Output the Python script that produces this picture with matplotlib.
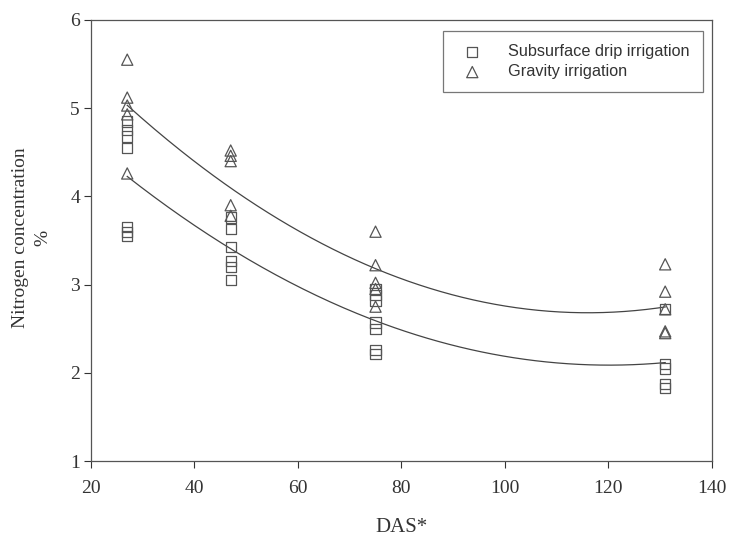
import numpy as np
import matplotlib.pyplot as plt

# days after sowing
das_sdi = [27] * 7 + [47] * 6 + [75] * 7 + [131] * 5
n_sdi = [4.85, 4.75, 4.68, 4.55, 3.65, 3.6, 3.55,
         3.76, 3.63, 3.43, 3.27, 3.2, 3.05,
         2.95, 2.88, 2.82, 2.57, 2.5, 2.26, 2.21,
         2.72, 2.1, 2.05, 1.87, 1.83]

das_grav = [27] * 5 + [47] * 5 + [75] * 5 + [131] * 5
n_grav = [5.55, 5.12, 5.03, 4.93, 4.26,
          4.52, 4.46, 4.40, 3.9, 3.78,
          3.6, 3.22, 3.02, 2.95, 2.75,
          3.23, 2.92, 2.72, 2.47, 2.45]

plt.rcParams['font.family'] = ['Liberation Serif', 'DejaVu Serif']

fig = plt.figure(figsize=(7.3, 5.37), dpi=100)
ax = fig.add_axes([0.1247, 0.1415, 0.8503, 0.8213])

ax.scatter(das_sdi, n_sdi, marker='s', s=55, facecolors='none',
           edgecolors='#555555', linewidths=0.9, label='Subsurface drip irrigation', zorder=3)
ax.scatter(das_grav, n_grav, marker='^', s=65, facecolors='none',
           edgecolors='#555555', linewidths=0.9, label='Gravity irrigation', zorder=3)

# quadratic regression curves
xs = np.linspace(27, 131, 200)
for x, y in [(das_sdi, n_sdi), (das_grav, n_grav)]:
    c = np.polyfit(x, y, 2)
    ax.plot(xs, np.polyval(c, xs), color='#444444', lw=0.9)

ax.set_xlim(20, 140)
ax.set_ylim(1, 6)
ax.set_xticks(range(20, 141, 20))
ax.set_yticks(range(1, 7))
ax.tick_params(direction='out', length=5, width=0.8, labelsize=14, colors='#333333')
ax.tick_params(axis='x', pad=9)
ax.tick_params(axis='y', pad=3)
for sp in ax.spines.values():
    sp.set_color('#555555')
    sp.set_linewidth(0.9)

ax.set_xlabel('DAS*', fontsize=15, color='#333333', labelpad=15)
fig.text(31.5 / 730, 0.557, 'Nitrogen concentration\n%', rotation=90, ha='center', va='center',
         fontsize=14, color='#333333', linespacing=1.4)

leg = ax.legend(loc='upper right', bbox_to_anchor=(0.993, 0.985), frameon=True, fancybox=False,
                prop={'family': 'Liberation Sans', 'size': 11.7}, handletextpad=1.2,
                borderpad=0.8, labelspacing=0.3, scatterpoints=1, borderaxespad=0.3)
leg.get_frame().set_edgecolor('#555555')
leg.get_frame().set_linewidth(0.9)
for t in leg.get_texts():
    t.set_color('#333333')

fig.savefig('out.png', dpi=100)
